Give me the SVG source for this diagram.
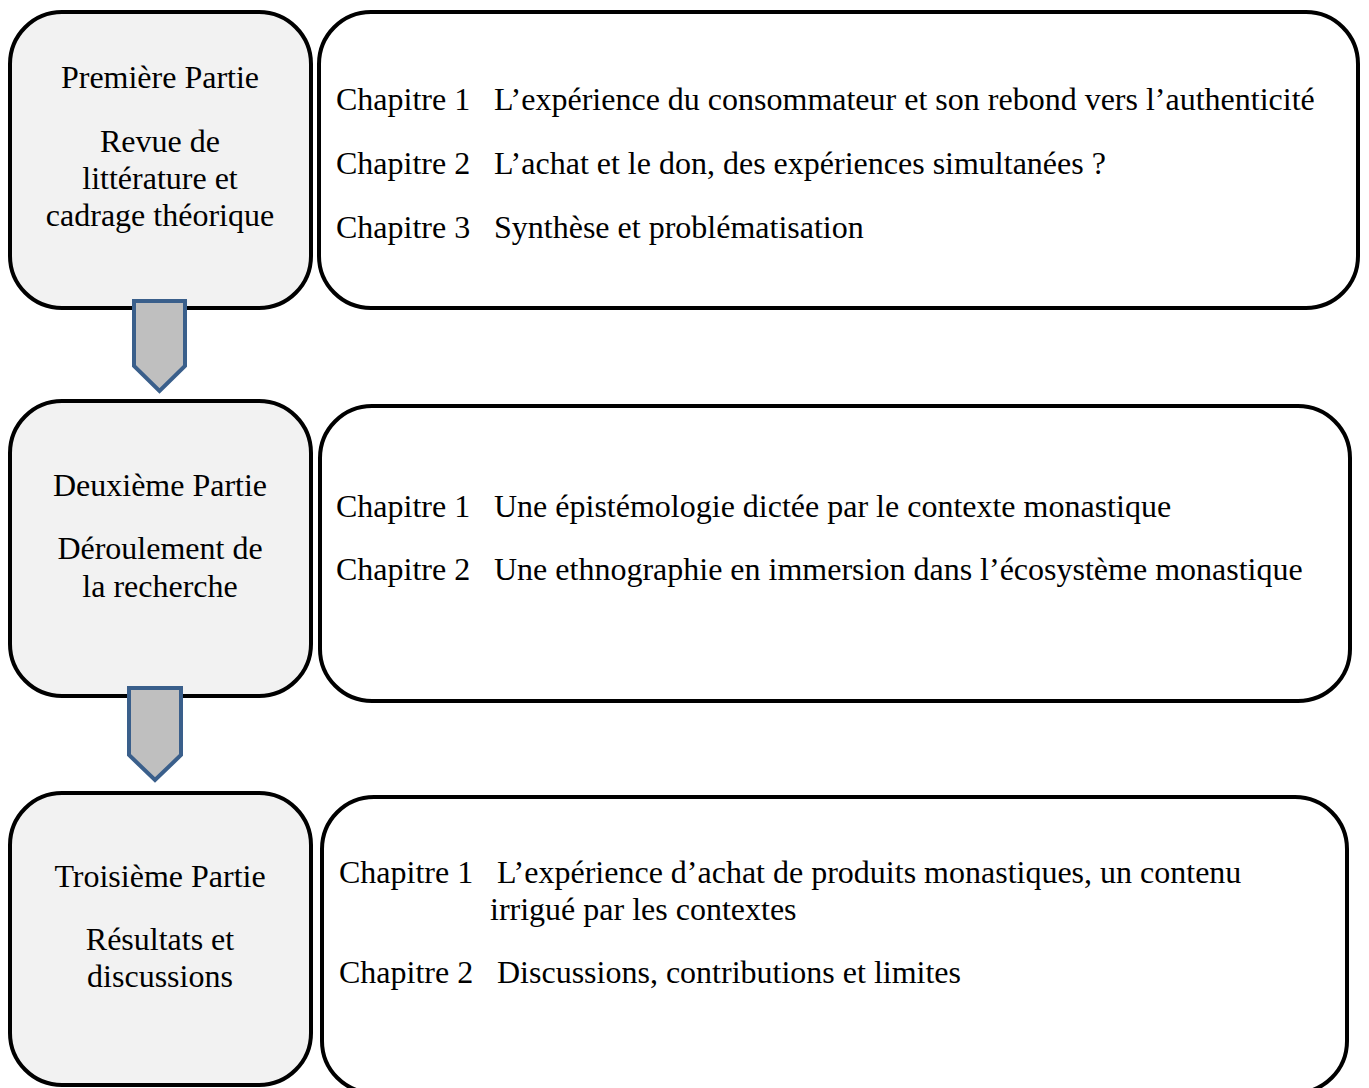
<svg xmlns="http://www.w3.org/2000/svg" width="1369" height="1088" viewBox="0 0 1369 1088">
<style>
.part{fill:#f2f2f2;stroke:#000;stroke-width:4}
.chap{fill:#fff;stroke:#000;stroke-width:4}
.arrow{fill:#bfbfbf;stroke:#3a5f8b;stroke-width:4;stroke-linejoin:miter}
text{font-family:"Liberation Serif","Times New Roman",serif;font-size:32px;fill:#000}
.c{text-anchor:middle}
</style>
<rect width="1369" height="1088" fill="#fff"/>
<g id="part1">
<rect class="part" x="10" y="12" width="301" height="296" rx="52" ry="52"/>
<text class="c" x="160" y="88">Première Partie</text>
<text class="c" x="160" y="152">Revue de</text>
<text class="c" x="160" y="189">littérature et</text>
<text class="c" x="160" y="226">cadrage théorique</text>
</g>
<g id="chapters1">
<rect class="chap" x="319" y="12" width="1039" height="296" rx="52" ry="52"/>
<text x="336" y="110">Chapitre 1</text><text x="494" y="110">L’expérience du consommateur et son rebond vers l’authenticité</text>
<text x="336" y="174">Chapitre 2</text><text x="494" y="174">L’achat et le don, des expériences simultanées ?</text>
<text x="336" y="238">Chapitre 3</text><text x="494" y="238">Synthèse et problématisation</text>
</g>
<g id="part2">
<rect class="part" x="10" y="401" width="301" height="295" rx="52" ry="52"/>
<text class="c" x="160" y="496">Deuxième Partie</text>
<text class="c" x="160" y="559">Déroulement de</text>
<text class="c" x="160" y="597">la recherche</text>
</g>
<g id="chapters2">
<rect class="chap" x="320" y="406" width="1030" height="295" rx="52" ry="52"/>
<text x="336" y="517">Chapitre 1</text><text x="494" y="517">Une épistémologie dictée par le contexte monastique</text>
<text x="336" y="580">Chapitre 2</text><text x="494" y="580">Une ethnographie en immersion dans l’écosystème monastique</text>
</g>
<g id="part3">
<rect class="part" x="10" y="793" width="301" height="292" rx="52" ry="52"/>
<text class="c" x="160" y="887">Troisième Partie</text>
<text class="c" x="160" y="950">Résultats et</text>
<text class="c" x="160" y="987">discussions</text>
</g>
<g id="chapters3">
<rect class="chap" x="322" y="797" width="1025" height="296" rx="52" ry="52"/>
<text x="339" y="883">Chapitre 1</text><text x="497" y="883">L’expérience d’achat de produits monastiques, un contenu</text>
<text x="490" y="920">irrigué par les contextes</text>
<text x="339" y="983">Chapitre 2</text><text x="497" y="983">Discussions, contributions et limites</text>
</g>
<g id="connectors">
<path class="arrow" d="M134,301 H185 V366 L159.5,391 L134,366 Z"/>
<path class="arrow" d="M129,688 H181 V755 L155,780 L129,755 Z"/>
</g>
</svg>
